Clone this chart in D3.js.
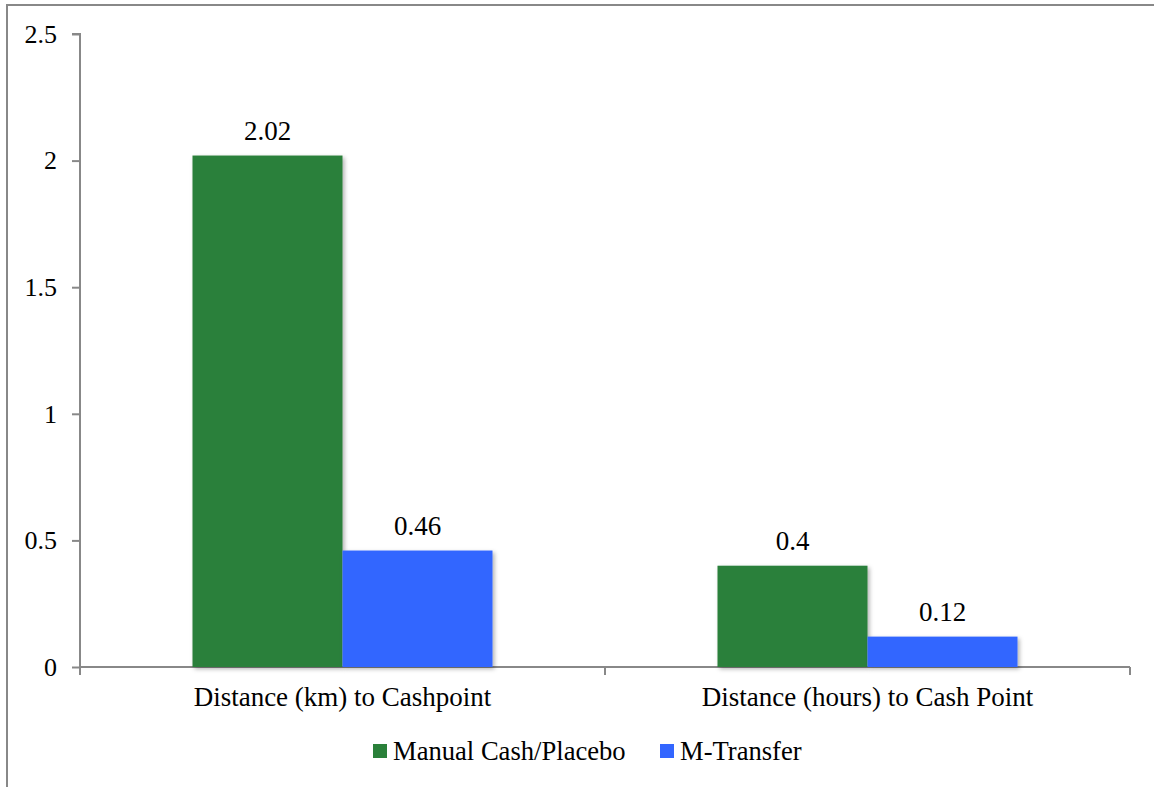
<!DOCTYPE html>
<html>
<head>
<meta charset="utf-8">
<script src="https://cdn.jsdelivr.net/npm/d3@7"></script>
<style>
  html, body { margin: 0; padding: 0; background: #fff; }
  svg { display: block; }
  text { font-family: "Liberation Serif", "Times New Roman", serif; fill: #000; }
</style>
</head>
<body>
<svg id="chart" width="1154" height="787"></svg>
<script>
const categories = ["Distance (km) to Cashpoint", "Distance (hours) to Cash Point"];
const seriesNames = ["Manual Cash/Placebo", "M-Transfer"];
const manualCash = [2.02, 0.4];
const mTransfer = [0.46, 0.12];
const yTicks = [0, 0.5, 1, 1.5, 2, 2.5];
const colors = ["#2A803A", "#3366FF"];

(function () {
const svg = d3.select("#chart");
const W = 1154, H = 787;
const mLeft = 80, mRight = 1130, mTop = 34, mBottom = 667;

// chart border
svg.append("rect").attr("x", 7).attr("y", 5).attr("width", W + 20).attr("height", H + 20)
  .attr("fill", "none").attr("stroke", "#888").attr("stroke-width", 2);

const defs = svg.append("defs");
const f = defs.append("filter").attr("id", "shadow").attr("x", "-10%").attr("y", "-10%").attr("width", "130%").attr("height", "130%");
f.append("feDropShadow").attr("dx", 2).attr("dy", 2).attr("stdDeviation", 2).attr("flood-color", "#000").attr("flood-opacity", 0.3);

const x0 = d3.scaleBand().domain(categories).range([mLeft, mRight]).paddingInner(0).paddingOuter(0);
const groupW = 300;
const x1 = d3.scaleBand().domain(seriesNames).range([0, groupW]).padding(0);
const y = d3.scaleLinear().domain([0, 2.5]).range([mBottom, mTop]);

const data = categories.map((c, i) => ({ cat: c, vals: [manualCash[i], mTransfer[i]] }));

// y axis
const yAxis = d3.axisLeft(y).tickValues(yTicks).tickSize(8).tickPadding(15)
  .tickFormat(d => d3.format("")(d));
const gy = svg.append("g").attr("transform", `translate(${mLeft},0)`).call(yAxis);
gy.select(".domain").attr("stroke", "#888").attr("stroke-width", 2).attr("d", `M-8,${mTop}H0V${mBottom}`);
gy.selectAll(".tick line").attr("stroke", "#888").attr("stroke-width", 2);
gy.selectAll(".tick text").style("font-family", "Liberation Serif, serif").style("font-size", "26px").attr("fill", "#000");

// x axis
const gx = svg.append("g").attr("transform", `translate(0,${mBottom})`);
gx.append("line").attr("x1", mLeft).attr("x2", mRight).attr("y1", 0).attr("y2", 0).attr("stroke", "#888").attr("stroke-width", 2);
const xTickPos = [mLeft, ...categories.map(c => x0(c) + x0.bandwidth())];
gx.selectAll("line.xt").data(xTickPos).enter().append("line").attr("class", "xt")
  .attr("x1", d => d).attr("x2", d => d).attr("y1", 0).attr("y2", 8).attr("stroke", "#888").attr("stroke-width", 2);
gx.selectAll("text.cat").data(categories).enter().append("text").attr("class", "cat")
  .attr("x", d => x0(d) + x0.bandwidth() / 2).attr("y", 39).attr("text-anchor", "middle")
  .style("font-size", "27px").text(d => d);

// bars
const groups = svg.selectAll("g.grp").data(data).enter().append("g").attr("class", "grp")
  .attr("transform", d => `translate(${x0(d.cat) + (x0.bandwidth() - groupW) / 2},0)`);
groups.selectAll("rect").data(d => d.vals.map((v, j) => ({ v, s: seriesNames[j], j }))).enter().append("rect")
  .attr("x", d => x1(d.s)).attr("width", x1.bandwidth())
  .attr("y", d => y(d.v)).attr("height", d => y(0) - y(d.v))
  .attr("fill", d => colors[d.j]).attr("filter", "url(#shadow)");
groups.selectAll("text.val").data(d => d.vals.map((v, j) => ({ v, s: seriesNames[j] }))).enter().append("text").attr("class", "val")
  .attr("x", d => x1(d.s) + x1.bandwidth() / 2).attr("y", d => y(d.v) - 16).attr("text-anchor", "middle")
  .style("font-size", "27px").text(d => d.v);

// legend
const legend = svg.append("g");
const legX = [373, 660];
seriesNames.forEach((s, i) => {
  legend.append("rect").attr("x", legX[i]).attr("y", 744).attr("width", 14).attr("height", 14).attr("fill", colors[i]);
  legend.append("text").attr("x", legX[i] + 20).attr("y", 760).style("font-size", "26.6px").text(s);
});
})();
</script>
</body>
</html>
